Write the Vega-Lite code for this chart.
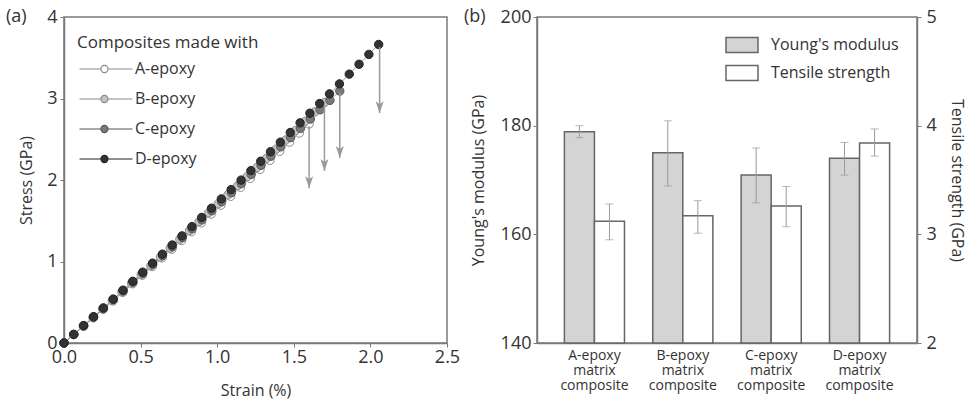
{
  "$schema": "https://vega.github.io/schema/vega-lite/v6.json",
  "padding": {"left": 5, "top": 7, "right": 5, "bottom": 5},
  "spacing": 2,
  "config": {
    "font": "Open Sans",
    "view": {"stroke": "#7a7a7a", "strokeWidth": 1.5},
    "axis": {"labelColor": "#333", "titleColor": "#333", "domainColor": "#7a7a7a", "tickColor": "#7a7a7a", "grid": false, "labelFontSize": 18, "titleFontSize": 16, "titleFontWeight": "normal", "domainWidth": 1.5, "tickSize": 4, "labelFlush": false},
    "legend": {"labelColor": "#333", "titleColor": "#333"},
    "title": {"color": "#333"}
  },
  "datasets": {
    "curves": [
      {"series":"A-epoxy","strain":0,"stress":0},{"series":"A-epoxy","strain":0.064,"stress":0.103},{"series":"A-epoxy","strain":0.128,"stress":0.206},{"series":"A-epoxy","strain":0.192,"stress":0.309},{"series":"A-epoxy","strain":0.256,"stress":0.413},{"series":"A-epoxy","strain":0.32,"stress":0.517},{"series":"A-epoxy","strain":0.384,"stress":0.622},{"series":"A-epoxy","strain":0.448,"stress":0.727},{"series":"A-epoxy","strain":0.512,"stress":0.832},{"series":"A-epoxy","strain":0.576,"stress":0.938},{"series":"A-epoxy","strain":0.64,"stress":1.045},{"series":"A-epoxy","strain":0.704,"stress":1.151},{"series":"A-epoxy","strain":0.768,"stress":1.258},{"series":"A-epoxy","strain":0.832,"stress":1.366},{"series":"A-epoxy","strain":0.896,"stress":1.474},{"series":"A-epoxy","strain":0.96,"stress":1.582},{"series":"A-epoxy","strain":1.024,"stress":1.691},{"series":"A-epoxy","strain":1.088,"stress":1.8},{"series":"A-epoxy","strain":1.152,"stress":1.91},{"series":"A-epoxy","strain":1.216,"stress":2.02},{"series":"A-epoxy","strain":1.28,"stress":2.13},{"series":"A-epoxy","strain":1.344,"stress":2.241},{"series":"A-epoxy","strain":1.408,"stress":2.352},{"series":"A-epoxy","strain":1.472,"stress":2.464},{"series":"A-epoxy","strain":1.536,"stress":2.576},{"series":"A-epoxy","strain":1.6,"stress":2.688},
      {"series":"B-epoxy","strain":0,"stress":0},{"series":"B-epoxy","strain":0.063,"stress":0.104},{"series":"B-epoxy","strain":0.126,"stress":0.208},{"series":"B-epoxy","strain":0.189,"stress":0.312},{"series":"B-epoxy","strain":0.252,"stress":0.417},{"series":"B-epoxy","strain":0.315,"stress":0.522},{"series":"B-epoxy","strain":0.378,"stress":0.628},{"series":"B-epoxy","strain":0.441,"stress":0.734},{"series":"B-epoxy","strain":0.504,"stress":0.841},{"series":"B-epoxy","strain":0.567,"stress":0.948},{"series":"B-epoxy","strain":0.63,"stress":1.055},{"series":"B-epoxy","strain":0.693,"stress":1.163},{"series":"B-epoxy","strain":0.756,"stress":1.272},{"series":"B-epoxy","strain":0.819,"stress":1.381},{"series":"B-epoxy","strain":0.882,"stress":1.49},{"series":"B-epoxy","strain":0.945,"stress":1.6},{"series":"B-epoxy","strain":1.007,"stress":1.708},{"series":"B-epoxy","strain":1.07,"stress":1.819},{"series":"B-epoxy","strain":1.133,"stress":1.93},{"series":"B-epoxy","strain":1.196,"stress":2.042},{"series":"B-epoxy","strain":1.259,"stress":2.154},{"series":"B-epoxy","strain":1.322,"stress":2.266},{"series":"B-epoxy","strain":1.385,"stress":2.379},{"series":"B-epoxy","strain":1.448,"stress":2.492},{"series":"B-epoxy","strain":1.511,"stress":2.606},{"series":"B-epoxy","strain":1.574,"stress":2.72},{"series":"B-epoxy","strain":1.637,"stress":2.835},{"series":"B-epoxy","strain":1.7,"stress":2.95},
      {"series":"C-epoxy","strain":0,"stress":0},{"series":"C-epoxy","strain":0.064,"stress":0.105},{"series":"C-epoxy","strain":0.129,"stress":0.212},{"series":"C-epoxy","strain":0.193,"stress":0.318},{"series":"C-epoxy","strain":0.257,"stress":0.424},{"series":"C-epoxy","strain":0.322,"stress":0.533},{"series":"C-epoxy","strain":0.386,"stress":0.639},{"series":"C-epoxy","strain":0.45,"stress":0.747},{"series":"C-epoxy","strain":0.514,"stress":0.854},{"series":"C-epoxy","strain":0.579,"stress":0.964},{"series":"C-epoxy","strain":0.643,"stress":1.072},{"series":"C-epoxy","strain":0.707,"stress":1.181},{"series":"C-epoxy","strain":0.772,"stress":1.292},{"series":"C-epoxy","strain":0.836,"stress":1.401},{"series":"C-epoxy","strain":0.9,"stress":1.511},{"series":"C-epoxy","strain":0.965,"stress":1.623},{"series":"C-epoxy","strain":1.029,"stress":1.733},{"series":"C-epoxy","strain":1.093,"stress":1.844},{"series":"C-epoxy","strain":1.157,"stress":1.955},{"series":"C-epoxy","strain":1.222,"stress":2.068},{"series":"C-epoxy","strain":1.286,"stress":2.18},{"series":"C-epoxy","strain":1.35,"stress":2.292},{"series":"C-epoxy","strain":1.415,"stress":2.407},{"series":"C-epoxy","strain":1.479,"stress":2.52},{"series":"C-epoxy","strain":1.543,"stress":2.633},{"series":"C-epoxy","strain":1.608,"stress":2.748},{"series":"C-epoxy","strain":1.672,"stress":2.862},{"series":"C-epoxy","strain":1.736,"stress":2.977},{"series":"C-epoxy","strain":1.8,"stress":3.091},
      {"series":"D-epoxy","strain":0,"stress":0},{"series":"D-epoxy","strain":0.064,"stress":0.106},{"series":"D-epoxy","strain":0.128,"stress":0.213},{"series":"D-epoxy","strain":0.193,"stress":0.323},{"series":"D-epoxy","strain":0.257,"stress":0.431},{"series":"D-epoxy","strain":0.321,"stress":0.539},{"series":"D-epoxy","strain":0.385,"stress":0.648},{"series":"D-epoxy","strain":0.449,"stress":0.757},{"series":"D-epoxy","strain":0.514,"stress":0.869},{"series":"D-epoxy","strain":0.578,"stress":0.98},{"series":"D-epoxy","strain":0.642,"stress":1.09},{"series":"D-epoxy","strain":0.706,"stress":1.202},{"series":"D-epoxy","strain":0.77,"stress":1.314},{"series":"D-epoxy","strain":0.835,"stress":1.428},{"series":"D-epoxy","strain":0.899,"stress":1.541},{"series":"D-epoxy","strain":0.963,"stress":1.654},{"series":"D-epoxy","strain":1.027,"stress":1.768},{"series":"D-epoxy","strain":1.091,"stress":1.882},{"series":"D-epoxy","strain":1.156,"stress":1.999},{"series":"D-epoxy","strain":1.22,"stress":2.115},{"series":"D-epoxy","strain":1.284,"stress":2.23},{"series":"D-epoxy","strain":1.348,"stress":2.347},{"series":"D-epoxy","strain":1.412,"stress":2.464},{"series":"D-epoxy","strain":1.477,"stress":2.583},{"series":"D-epoxy","strain":1.541,"stress":2.701},{"series":"D-epoxy","strain":1.605,"stress":2.819},{"series":"D-epoxy","strain":1.669,"stress":2.938},{"series":"D-epoxy","strain":1.733,"stress":3.057},{"series":"D-epoxy","strain":1.798,"stress":3.179},{"series":"D-epoxy","strain":1.862,"stress":3.299},{"series":"D-epoxy","strain":1.926,"stress":3.42},{"series":"D-epoxy","strain":1.99,"stress":3.541},{"series":"D-epoxy","strain":2.054,"stress":3.663}
    ],
    "arrows": [
      {"series":"A-epoxy","strain":1.6,"top":2.66,"tip":1.9},
      {"series":"B-epoxy","strain":1.7,"top":2.92,"tip":2.11},
      {"series":"C-epoxy","strain":1.8,"top":3.07,"tip":2.27},
      {"series":"D-epoxy","strain":2.06,"top":3.63,"tip":2.82}
    ],
    "bars": [
      {"cat":"A-epoxy matrix composite","measure":"Young's modulus","value":178.9,"lo":177.8,"hi":180.0},
      {"cat":"B-epoxy matrix composite","measure":"Young's modulus","value":175.0,"lo":168.9,"hi":180.9},
      {"cat":"C-epoxy matrix composite","measure":"Young's modulus","value":170.9,"lo":165.8,"hi":175.9},
      {"cat":"D-epoxy matrix composite","measure":"Young's modulus","value":174.0,"lo":170.9,"hi":176.9},
      {"cat":"A-epoxy matrix composite","measure":"Tensile strength","value":3.12,"lo":2.95,"hi":3.28},
      {"cat":"B-epoxy matrix composite","measure":"Tensile strength","value":3.17,"lo":3.01,"hi":3.31},
      {"cat":"C-epoxy matrix composite","measure":"Tensile strength","value":3.26,"lo":3.07,"hi":3.44},
      {"cat":"D-epoxy matrix composite","measure":"Tensile strength","value":3.84,"lo":3.72,"hi":3.97}
    ]
  },
  "hconcat": [
    {
      "width": 383,
      "height": 326,
      "title": {"text": "(a)", "anchor": "start", "frame": "group", "dx": -58, "dy": 27, "baseline": "middle", "fontSize": 18, "fontWeight": "normal", "offset": 0},
      "layer": [
        {
          "data": {"name": "curves"},
          "mark": {"type": "line", "color": "#9a9a9a", "strokeWidth": 1},
          "encoding": {
            "x": {"field": "strain", "type": "quantitative", "scale": {"domain": [0, 2.5], "nice": false}, "axis": {"values": [0, 0.5, 1, 1.5, 2, 2.5], "format": ".1f", "title": "Strain (%)", "titlePadding": 16, "labelPadding": 1}},
            "y": {"field": "stress", "type": "quantitative", "scale": {"domain": [0, 4], "nice": false}, "axis": {"values": [0, 1, 2, 3, 4], "format": "d", "title": "Stress (GPa)", "titlePadding": 12, "labelPadding": 3}},
            "detail": {"field": "series"}
          }
        },
        {
          "data": {"name": "curves"},
          "mark": {"type": "point", "shape": "circle", "size": 70, "strokeWidth": 1, "opacity": 1},
          "encoding": {
            "x": {"field": "strain", "type": "quantitative"},
            "y": {"field": "stress", "type": "quantitative"},
            "fill": {"field": "series", "type": "nominal", "scale": {"domain": ["A-epoxy", "B-epoxy", "C-epoxy", "D-epoxy"], "range": ["#ffffff", "#c4c4c4", "#7a7a7a", "#333333"]},
              "legend": {"title": "Composites made with", "orient": "none", "legendX": 13, "legendY": 18, "padding": 0, "titleFontSize": 17, "titleFontWeight": "normal", "titleLimit": 400, "titlePadding": 9, "labelFontSize": 16, "labelOffset": 42, "symbolSize": 50, "symbolStrokeWidth": 1.2, "rowPadding": 14, "symbolType": "M-1.55,0H4.5M6.5,0H13.4M4.5,0A1,1 0 1,0 6.5,0A1,1 0 1,0 4.5,0Z"}},
            "stroke": {"field": "series", "type": "nominal", "scale": {"domain": ["A-epoxy", "B-epoxy", "C-epoxy", "D-epoxy"], "range": ["#8a8a8a", "#8a8a8a", "#555555", "#222222"]},
              "legend": {"title": "Composites made with", "orient": "none", "legendX": 13, "legendY": 18, "padding": 0, "titleFontSize": 17, "titleFontWeight": "normal", "titleLimit": 400, "titlePadding": 9, "labelFontSize": 16, "labelOffset": 42, "symbolSize": 50, "symbolStrokeWidth": 1.2, "rowPadding": 14, "symbolType": "M-1.55,0H4.5M6.5,0H13.4M4.5,0A1,1 0 1,0 6.5,0A1,1 0 1,0 4.5,0Z"}}
          }
        },
        {
          "data": {"name": "arrows"},
          "mark": {"type": "rule", "color": "#9a9a9a", "strokeWidth": 1.5},
          "encoding": {
            "x": {"field": "strain", "type": "quantitative"},
            "y": {"field": "top", "type": "quantitative"},
            "y2": {"field": "tip"}
          }
        },
        {
          "data": {"name": "arrows"},
          "mark": {"type": "point", "filled": true, "color": "#9a9a9a", "opacity": 1, "size": 144, "shape": "M-0.67,-2L0,0L0.67,-2L0,-1.5Z"},
          "encoding": {
            "x": {"field": "strain", "type": "quantitative"},
            "y": {"field": "tip", "type": "quantitative"}
          }
        }
      ]
    },
    {
      "width": 380,
      "height": 326,
      "title": {"text": "(b)", "anchor": "start", "frame": "group", "dx": -73, "dy": 27, "baseline": "middle", "fontSize": 18, "fontWeight": "normal", "offset": 0},
      "data": {"name": "bars"},
      "encoding": {
        "x": {"field": "cat", "type": "nominal", "sort": null, "scale": {"paddingInner": 0.32, "paddingOuter": 0.31}, "axis": {"title": null, "labelAngle": 0, "labelExpr": "split(datum.label, ' ')", "labelFontSize": 14, "labelLineHeight": 15, "ticks": false, "labelPadding": 5}},
        "xOffset": {"field": "measure", "type": "nominal", "scale": {"domain": ["Young's modulus", "Tensile strength"], "paddingInner": 0, "paddingOuter": 0}}
      },
      "layer": [
        {
          "transform": [{"filter": "datum.measure == \"Young's modulus\""}],
          "layer": [
            {
              "mark": {"type": "bar", "stroke": "#666", "strokeWidth": 1.5},
              "encoding": {
                "y": {"field": "value", "type": "quantitative", "scale": {"domain": [140, 200], "nice": false}, "axis": {"values": [140, 160, 180, 200], "format": "d", "title": "Young's modulus (GPa)", "titlePadding": 14, "labelPadding": 2}},
                "y2": {"datum": 140},
                "fill": {"field": "measure", "type": "nominal", "scale": {"domain": ["Young's modulus", "Tensile strength"], "range": ["#d4d4d4", "#ffffff"]},
                  "legend": {"title": null, "orient": "none", "legendX": 188, "legendY": 11, "padding": 0, "labelFontSize": 16, "labelOffset": 12, "symbolSize": 1024, "symbolStrokeColor": "#666", "symbolStrokeWidth": 1.5, "rowPadding": -6, "symbolType": "M-1,-0.47H1V0.47H-1Z"}}
              }
            },
            {
              "mark": {"type": "rule", "color": "#9a9a9a", "strokeWidth": 1},
              "encoding": {
                "y": {"field": "lo", "type": "quantitative", "title": "Young's modulus (GPa)"},
                "y2": {"field": "hi"}
              }
            },
            {
              "mark": {"type": "tick", "color": "#9a9a9a", "thickness": 1, "size": 8},
              "encoding": {"y": {"field": "lo", "type": "quantitative", "title": "Young's modulus (GPa)"}}
            },
            {
              "mark": {"type": "tick", "color": "#9a9a9a", "thickness": 1, "size": 8},
              "encoding": {"y": {"field": "hi", "type": "quantitative", "title": "Young's modulus (GPa)"}}
            }
          ]
        },
        {
          "transform": [{"filter": "datum.measure == 'Tensile strength'"}],
          "layer": [
            {
              "mark": {"type": "bar", "stroke": "#666", "strokeWidth": 1.5},
              "encoding": {
                "y": {"field": "value", "type": "quantitative", "scale": {"domain": [2, 5], "nice": false}, "axis": {"orient": "right", "values": [2, 3, 4, 5], "format": "d", "title": "Tensile strength (GPa)", "titlePadding": 12, "labelPadding": 5}},
                "y2": {"datum": 2},
                "fill": {"field": "measure", "type": "nominal"}
              }
            },
            {
              "mark": {"type": "rule", "color": "#9a9a9a", "strokeWidth": 1},
              "encoding": {
                "y": {"field": "lo", "type": "quantitative", "title": "Tensile strength (GPa)"},
                "y2": {"field": "hi"}
              }
            },
            {
              "mark": {"type": "tick", "color": "#9a9a9a", "thickness": 1, "size": 8},
              "encoding": {"y": {"field": "lo", "type": "quantitative", "title": "Tensile strength (GPa)"}}
            },
            {
              "mark": {"type": "tick", "color": "#9a9a9a", "thickness": 1, "size": 8},
              "encoding": {"y": {"field": "hi", "type": "quantitative", "title": "Tensile strength (GPa)"}}
            }
          ]
        }
      ],
      "resolve": {"scale": {"y": "independent"}}
    }
  ],
  "resolve": {"scale": {"fill": "independent", "stroke": "independent"}, "legend": {"fill": "independent", "stroke": "independent"}}
}
